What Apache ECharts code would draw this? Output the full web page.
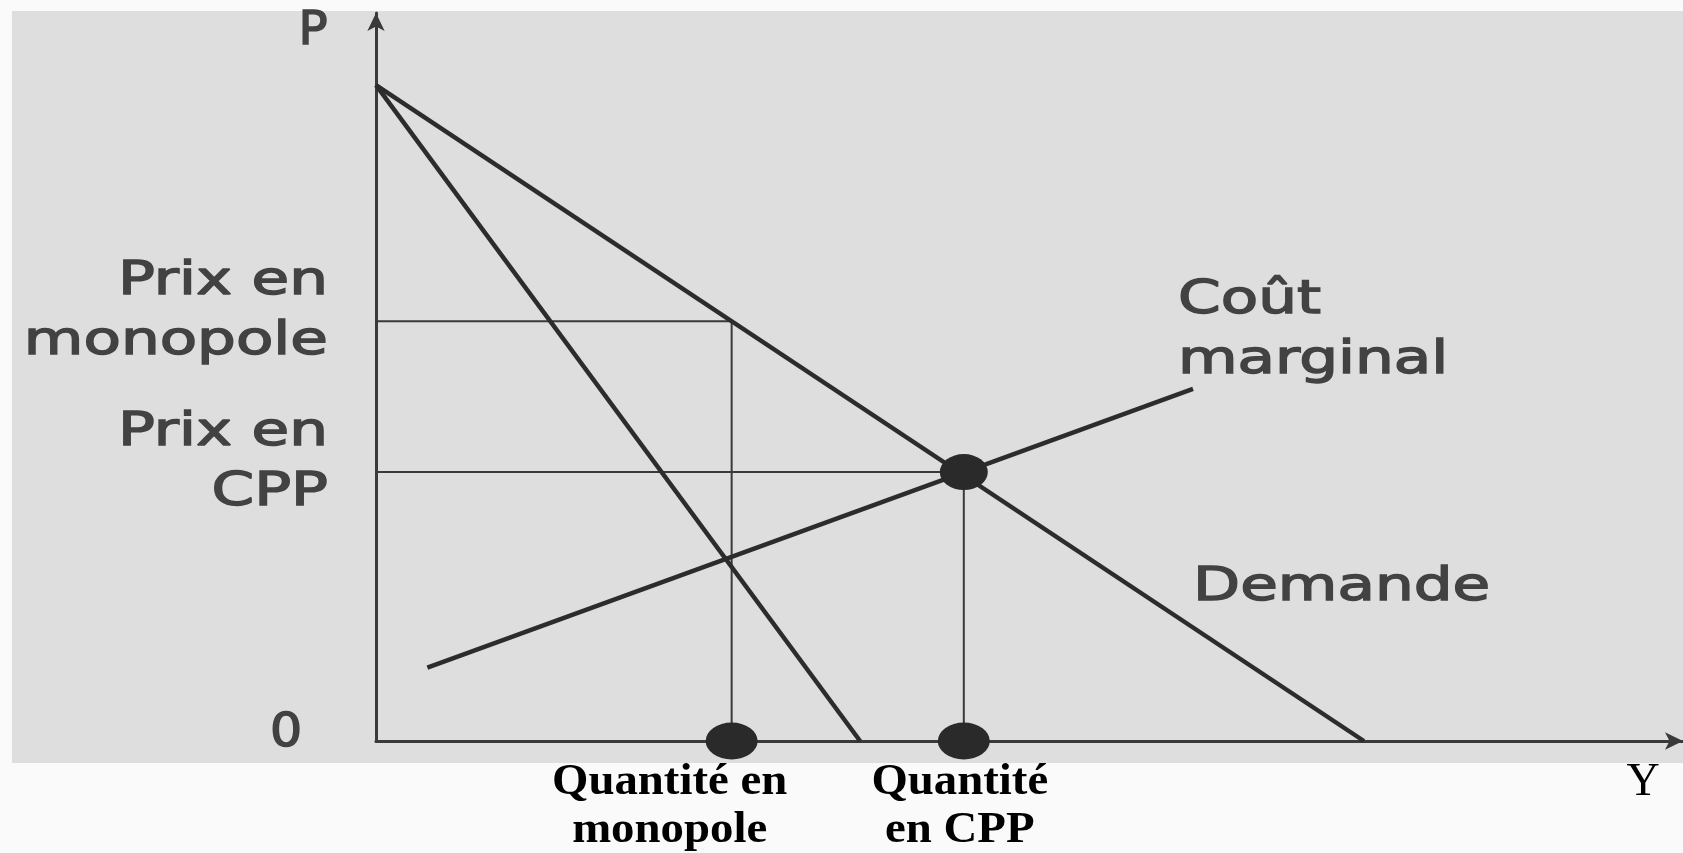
<!DOCTYPE html>
<html>
<head>
<meta charset="utf-8">
<script src="https://cdn.jsdelivr.net/npm/echarts@6/dist/echarts.min.js"></script>
<style>
  html, body { margin: 0; padding: 0; background: #fafafa; }
  #chart { width: 1683px; height: 853px; }
</style>
</head>
<body>
<div id="chart"></div>
<script>
// courbes (Q, P)
const demandLine = [[0, 10], [10, 0]]
const marginalRevenue = [[0, 10], [4.9, 0]]
const marginalCost = [[0.52, 1.12], [8.27, 5.37]]
// equilibres
const monopolyPoint = [3.6, 6.4]
const competitivePoint = [5.95, 4.1]
// libelles des axes
const priceTickLabels = ['Prix en\nmonopole', 'Prix en\nCPP']
const quantityTickLabels = ['Quantité en\nmonopole', 'Quantité\nen CPP']
const xAxisName = 'Y'
const yAxisName = 'P'
const curveNames = ['Coût\nmarginal', 'Demande']

const X_MAX = 13.23
const Y_MAX = 11.1
const INK = '#2c2c2c'
const SCAN_TEXT = '#424242'

const chart = echarts.init(document.getElementById('chart'), null, { renderer: 'canvas' })

const guide = (pt) => [[0, pt[1]], [pt[0], pt[1]], [pt[0], 0]]

chart.setOption({
  animation: false,
  grid: { left: 376, right: 0, top: 13, bottom: 112 },
  xAxis: {
    type: 'value', min: 0, max: X_MAX,
    splitLine: { show: false }, axisTick: { show: false }, axisLabel: { show: false },
    axisLine: { onZero: true, symbol: ['none', 'arrow'], symbolSize: [13, 18], lineStyle: { color: '#3a3a3a', width: 3 } }
  },
  yAxis: {
    type: 'value', min: 0, max: Y_MAX,
    splitLine: { show: false }, axisTick: { show: false }, axisLabel: { show: false },
    axisLine: { symbol: ['none', 'arrow'], symbolSize: [13, 18], lineStyle: { color: '#3a3a3a', width: 3 } }
  },
  series: [
    { name: 'guideMono', type: 'line', data: guide(monopolyPoint), showSymbol: false, silent: true, lineStyle: { color: '#3a3a3a', width: 2 } },
    { name: 'guideCpp', type: 'line', data: guide(competitivePoint), showSymbol: false, silent: true, lineStyle: { color: '#3a3a3a', width: 2 } },
    { name: 'demande', type: 'line', data: demandLine, showSymbol: false, silent: true, lineStyle: { color: INK, width: 4.5 } },
    { name: 'recette marginale', type: 'line', data: marginalRevenue, showSymbol: false, silent: true, lineStyle: { color: INK, width: 4.5 } },
    { name: 'cout marginal', type: 'line', data: marginalCost, showSymbol: false, silent: true, lineStyle: { color: INK, width: 4.5 } },
    {
      name: 'points', type: 'scatter', silent: true, z: 5,
      symbol: 'path://M0,1 A1,1 0 1,0 2,1 A1,1 0 1,0 0,1 Z',
      data: [competitivePoint, [monopolyPoint[0], 0], [competitivePoint[0], 0]],
      symbolSize: (v) => v[1] === 0 ? [52, 37] : [48, 36],
      itemStyle: { color: '#2a2a2a', opacity: 1 }
    }
  ]
})

function place(pt) {
  return chart.convertToPixel({ gridIndex: 0 }, pt)
}

// texte du scan : police etiree horizontalement, trait un peu epaissi
function scanText(text, x, y, align, extra) {
  return Object.assign({
    type: 'text', x: x, y: y, z: 50, silent: true, scaleX: 1.33,
    style: {
      text: text, font: '46px "DejaVu Sans"', fill: SCAN_TEXT, stroke: SCAN_TEXT, lineWidth: 1.4,
      align: align, verticalAlign: 'middle', lineHeight: 60
    }
  }, extra || {})
}

const graphics = []
// fond de la photo
graphics.push({ type: 'rect', z: -10, silent: true, shape: { x: 12, y: 11, width: 1683, height: 752 }, style: { fill: '#dedede' } })

const axisTop = place([0, Y_MAX])
graphics.push(scanText(yAxisName, axisTop[0] - 63, axisTop[1] + 19, 'center', { scaleX: 1.05 }))

;[monopolyPoint, competitivePoint].forEach((pt, i) => {
  const p = place([0, pt[1]])
  graphics.push(scanText(priceTickLabels[i], p[0] - 48, p[1] - 9, 'right'))
})

const origin = place([0, 0])
graphics.push(scanText('0', origin[0] - 90, origin[1] - 7, 'center', { scaleX: 1.1 }))

const mcEnd = place(marginalCost[1])
graphics.push(scanText(curveNames[0], mcEnd[0] - 15, mcEnd[1] - 58, 'left'))
const dAnchor = place([8.2, 1.8])
graphics.push(scanText(curveNames[1], dAnchor[0] + 7, dAnchor[1] - 35, 'left'))

const qOffsets = [-62, -4]
;[monopolyPoint, competitivePoint].forEach((pt, i) => {
  const p = place([pt[0], 0])
  graphics.push({
    type: 'text', x: p[0] + qOffsets[i], y: p[1] + 65, z: 60, silent: true, scaleX: 1.04,
    style: { text: quantityTickLabels[i], font: 'bold 45px "Liberation Serif"', fill: '#000', align: 'center', verticalAlign: 'middle', lineHeight: 48 }
  })
})

const xEnd = place([X_MAX, 0])
graphics.push({
  type: 'text', x: xEnd[0] - 40, y: xEnd[1] + 42, z: 60, silent: true,
  style: { text: xAxisName, font: '46px "Liberation Serif"', fill: '#000', align: 'center', verticalAlign: 'middle' }
})

// bandes blanches autour de la photo
graphics.push({ type: 'rect', z: 40, silent: true, shape: { x: 0, y: 0, width: 1683, height: 11 }, style: { fill: '#fafafa' } })
graphics.push({ type: 'rect', z: 40, silent: true, shape: { x: 0, y: 0, width: 12, height: 853 }, style: { fill: '#fafafa' } })
graphics.push({ type: 'rect', z: 40, silent: true, shape: { x: 0, y: 763, width: 1683, height: 90 }, style: { fill: '#fafafa' } })

chart.setOption({ graphic: graphics })
</script>
</body>
</html>
